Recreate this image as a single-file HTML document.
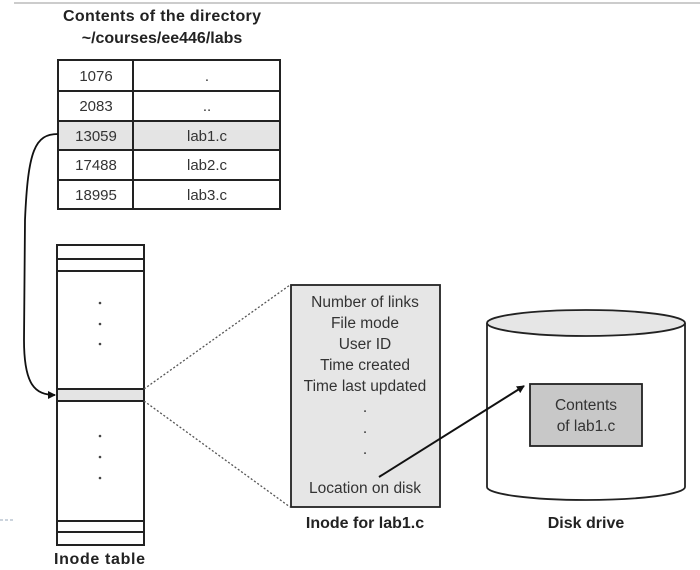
<!DOCTYPE html>
<html><head><style>
html,body{margin:0;padding:0;background:#fff;}
svg{display:block;}
text{font-family:"Liberation Sans",sans-serif;}
</style></head><body>
<svg width="700" height="570" viewBox="0 0 700 570" xmlns="http://www.w3.org/2000/svg">
<defs><marker id="ah" markerWidth="8" markerHeight="8" refX="7" refY="4" orient="auto" markerUnits="userSpaceOnUse"><path d="M0,0 L8,4 L0,8 z" fill="#111"/></marker></defs>
<line x1="14" y1="3" x2="700" y2="3" stroke="#bbb" stroke-width="1.5"/>
<line x1="0" y1="520" x2="14" y2="520" stroke="#9ab" stroke-width="1" stroke-dasharray="3,2"/>
<text x="162" y="21" font-size="16" font-weight="bold" text-anchor="middle" fill="#222" textLength="198">Contents of the directory</text>
<text x="162" y="43" font-size="16" font-weight="bold" text-anchor="middle" fill="#222">~/courses/ee446/labs</text>
<rect x="58" y="121" width="222" height="29" fill="#e4e4e4"/>
<rect x="58" y="60" width="222" height="149" fill="none" stroke="#222" stroke-width="2"/>
<g stroke="#222" stroke-width="2"><line x1="58" y1="91" x2="280" y2="91"/><line x1="58" y1="121" x2="280" y2="121"/><line x1="58" y1="150" x2="280" y2="150"/><line x1="58" y1="180" x2="280" y2="180"/><line x1="133" y1="60" x2="133" y2="209"/></g>
<g font-size="15" fill="#333" text-anchor="middle">
<text x="96" y="81">1076</text><text x="96" y="111">2083</text><text x="96" y="141">13059</text><text x="96" y="170">17488</text><text x="96" y="200">18995</text>
<text x="207" y="81">.</text><text x="207" y="111">..</text><text x="207" y="141">lab1.c</text><text x="207" y="170">lab2.c</text><text x="207" y="200">lab3.c</text>
</g>
<path d="M58,134 C35,134 28,150 25,220 L24,340 C24,385 35,395 55,395" fill="none" stroke="#111" stroke-width="1.8" marker-end="url(#ah)"/>
<rect x="57" y="389" width="87" height="12" fill="#e4e4e4"/>
<rect x="57" y="245" width="87" height="300" fill="none" stroke="#222" stroke-width="2"/>
<g stroke="#222" stroke-width="2"><line x1="57" y1="259" x2="144" y2="259"/><line x1="57" y1="271" x2="144" y2="271"/><line x1="57" y1="389" x2="144" y2="389"/><line x1="57" y1="401" x2="144" y2="401"/><line x1="57" y1="521" x2="144" y2="521"/><line x1="57" y1="532" x2="144" y2="532"/></g>
<g fill="#444"><circle cx="100" cy="303" r="1.3"/><circle cx="100" cy="324" r="1.3"/><circle cx="100" cy="344" r="1.3"/><circle cx="100" cy="436" r="1.3"/><circle cx="100" cy="457" r="1.3"/><circle cx="100" cy="478" r="1.3"/></g>
<text x="54" y="564" font-size="16" font-weight="bold" fill="#222" textLength="91">Inode table</text>
<g stroke="#555" stroke-width="1.3" stroke-dasharray="2,2"><line x1="144" y1="389" x2="290" y2="285"/><line x1="144" y1="401" x2="290" y2="507"/></g>
<rect x="291" y="285" width="149" height="222" fill="#e6e6e6" stroke="#222" stroke-width="1.8"/>
<g font-size="15.5" fill="#333" text-anchor="middle">
<text x="365" y="307">Number of links</text><text x="365" y="328">File mode</text><text x="365" y="349">User ID</text><text x="365" y="370">Time created</text><text x="365" y="391">Time last updated</text>
<text x="365" y="412">.</text><text x="365" y="433">.</text><text x="365" y="454">.</text>
<text x="365" y="493">Location on disk</text>
</g>
<text x="365" y="528" font-size="16" font-weight="bold" text-anchor="middle" fill="#222">Inode for lab1.c</text>
<path d="M487,323 L487,487 A99,13 0 0 0 685,487 L685,323" fill="#fff" stroke="#222" stroke-width="1.8"/>
<ellipse cx="586" cy="323" rx="99" ry="13" fill="#e6e6e6" stroke="#222" stroke-width="1.8"/>
<rect x="530" y="384" width="112" height="62" fill="#c8c8c8" stroke="#222" stroke-width="1.8"/>
<text x="586" y="410" font-size="15.5" text-anchor="middle" fill="#333">Contents</text>
<text x="586" y="431" font-size="15.5" text-anchor="middle" fill="#333">of lab1.c</text>
<line x1="379" y1="477" x2="524" y2="386" stroke="#111" stroke-width="2" marker-end="url(#ah)"/>
<text x="586" y="528" font-size="16" font-weight="bold" text-anchor="middle" fill="#222">Disk drive</text>
</svg>
</body></html>
